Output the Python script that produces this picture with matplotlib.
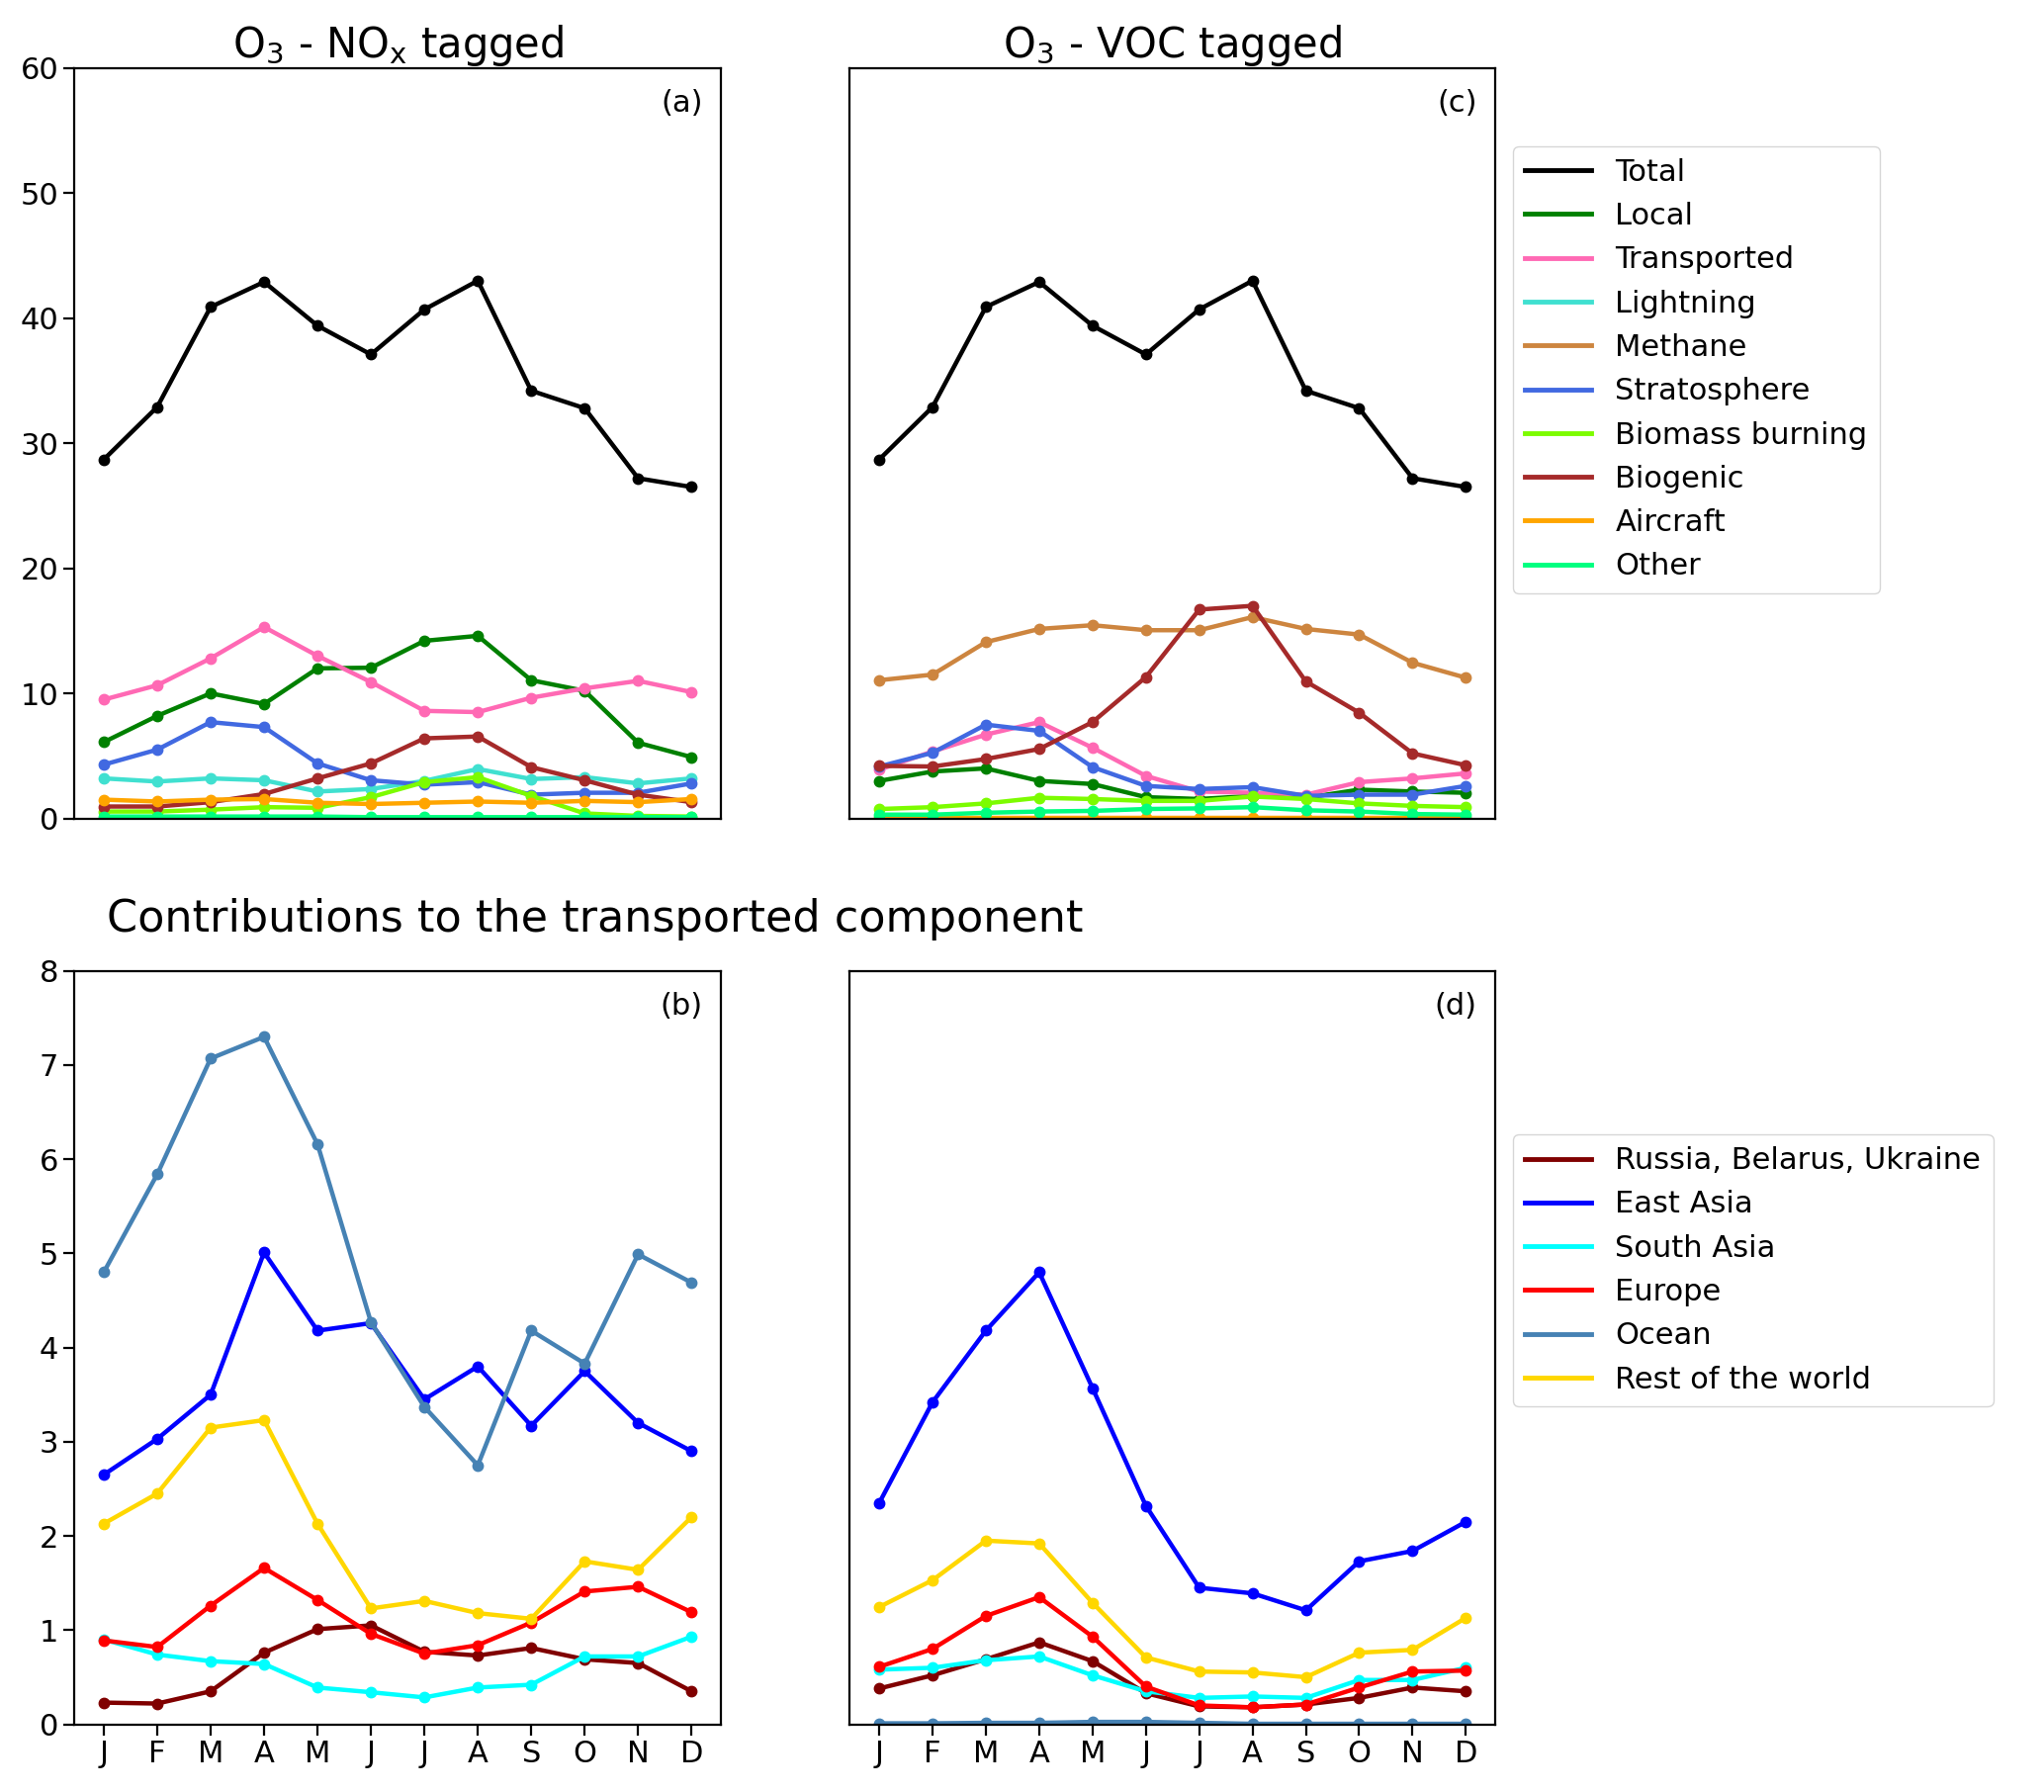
import matplotlib
matplotlib.use("Agg")
import matplotlib.pyplot as plt

months = ["J", "F", "M", "A", "M", "J", "J", "A", "S", "O", "N", "D"]
X = list(range(len(months)))

# top row: O3 tagged contributions
lab_top = ["Total", "Local", "Transported", "Lightning", "Methane", "Stratosphere",
           "Biomass burning", "Biogenic", "Aircraft", "Other"]
col_top = ["black", "green", "hotpink", "turquoise", "peru", "royalblue",
           "lawngreen", "brown", "orange", "springgreen"]

total = [28.7, 32.9, 40.9, 42.9, 39.4, 37.1, 40.7, 43.0, 34.2, 32.8, 27.2, 26.5]

nox_local = [6.1, 8.2, 10.0, 9.15, 12.0, 12.05, 14.2, 14.6, 11.05, 10.2, 6.05, 4.9]
nox_transp = [9.5, 10.65, 12.8, 15.3, 13.0, 10.9, 8.6, 8.5, 9.65, 10.4, 11.0, 10.1]
nox_light = [3.2, 2.95, 3.2, 3.05, 2.15, 2.35, 3.0, 3.95, 3.15, 3.3, 2.8, 3.2]
nox_meth = [0, 0, 0, 0, 0, 0, 0, 0, 0, 0, 0, 0]
nox_strat = [4.3, 5.5, 7.7, 7.3, 4.4, 3.05, 2.7, 2.9, 1.9, 2.05, 2.05, 2.8]
nox_bb = [0.55, 0.55, 0.7, 0.9, 0.85, 1.7, 2.9, 3.3, 1.8, 0.4, 0.2, 0.15]
nox_bio = [0.95, 0.95, 1.3, 1.95, 3.2, 4.4, 6.4, 6.55, 4.1, 3.05, 1.9, 1.3]
nox_air = [1.5, 1.35, 1.5, 1.55, 1.25, 1.15, 1.25, 1.35, 1.25, 1.4, 1.3, 1.55]
nox_other = [0.15, 0.15, 0.15, 0.15, 0.15, 0.1, 0.1, 0.1, 0.1, 0.1, 0.1, 0.1]

voc_local = [3.0, 3.75, 4.0, 3.0, 2.75, 1.7, 1.55, 1.8, 1.65, 2.3, 2.15, 2.05]
voc_transp = [3.9, 5.35, 6.7, 7.7, 5.65, 3.4, 2.15, 2.05, 1.9, 2.9, 3.2, 3.6]
voc_light = [0, 0, 0, 0, 0, 0, 0, 0, 0, 0, 0, 0]
voc_meth = [11.05, 11.5, 14.1, 15.15, 15.45, 15.05, 15.05, 16.1, 15.15, 14.7, 12.45, 11.25]
voc_strat = [4.15, 5.25, 7.5, 7.0, 4.1, 2.6, 2.35, 2.5, 1.8, 1.9, 1.9, 2.6]
voc_bb = [0.75, 0.9, 1.2, 1.65, 1.55, 1.4, 1.4, 1.75, 1.55, 1.2, 1.0, 0.9]
voc_bio = [4.2, 4.15, 4.75, 5.55, 7.7, 11.3, 16.7, 17.0, 10.95, 8.45, 5.2, 4.25]
voc_air = [0.02, 0.02, 0.02, 0.02, 0.02, 0.02, 0.02, 0.02, 0.02, 0.02, 0.02, 0.02]
voc_other = [0.3, 0.3, 0.45, 0.55, 0.6, 0.75, 0.8, 0.9, 0.65, 0.55, 0.35, 0.3]

NOX = [total, nox_local, nox_transp, nox_light, nox_meth, nox_strat, nox_bb, nox_bio, nox_air, nox_other]
VOC = [total, voc_local, voc_transp, voc_light, voc_meth, voc_strat, voc_bb, voc_bio, voc_air, voc_other]

# bottom row: regions contributing to the transported part
lab_bot = ["Russia, Belarus, Ukraine", "East Asia", "South Asia", "Europe", "Ocean", "Rest of the world"]
col_bot = ["maroon", "blue", "cyan", "red", "steelblue", "gold"]

b_rbu = [0.23, 0.22, 0.35, 0.76, 1.01, 1.05, 0.77, 0.73, 0.81, 0.69, 0.65, 0.35]
b_eas = [2.65, 3.03, 3.50, 5.01, 4.18, 4.26, 3.45, 3.80, 3.17, 3.75, 3.20, 2.90]
b_sas = [0.90, 0.74, 0.67, 0.64, 0.39, 0.34, 0.285, 0.39, 0.42, 0.72, 0.72, 0.93]
b_eur = [0.89, 0.82, 1.26, 1.66, 1.32, 0.96, 0.75, 0.84, 1.08, 1.41, 1.46, 1.19]
b_oce = [4.80, 5.84, 7.07, 7.30, 6.16, 4.27, 3.37, 2.75, 4.18, 3.83, 4.99, 4.69]
b_row = [2.13, 2.45, 3.15, 3.23, 2.13, 1.23, 1.31, 1.18, 1.12, 1.73, 1.64, 2.20]

d_rbu = [0.38, 0.52, 0.69, 0.87, 0.67, 0.33, 0.19, 0.18, 0.21, 0.28, 0.39, 0.35]
d_eas = [2.35, 3.42, 4.18, 4.80, 3.57, 2.32, 1.45, 1.39, 1.21, 1.73, 1.84, 2.15]
d_sas = [0.58, 0.60, 0.68, 0.72, 0.52, 0.35, 0.28, 0.295, 0.28, 0.47, 0.47, 0.60]
d_eur = [0.61, 0.80, 1.15, 1.35, 0.93, 0.40, 0.20, 0.18, 0.21, 0.39, 0.56, 0.57]
d_oce = [0.01, 0.01, 0.015, 0.015, 0.025, 0.025, 0.015, 0.005, 0.005, 0.005, 0.005, 0.005]
d_row = [1.245, 1.53, 1.95, 1.92, 1.29, 0.71, 0.56, 0.55, 0.50, 0.76, 0.79, 1.13]

BOT_B = [b_rbu, b_eas, b_sas, b_eur, b_oce, b_row]
BOT_D = [d_rbu, d_eas, d_sas, d_eur, d_oce, d_row]

LW = 3.2
MS = 7.5
FS = 22

fig = plt.figure(figsize=(20.67, 18.12), dpi=100)
ax_a = fig.add_axes([0.0364, 0.5433, 0.3163, 0.4187])
ax_c = fig.add_axes([0.4158, 0.5433, 0.3157, 0.4187])
ax_b = fig.add_axes([0.0364, 0.0378, 0.3163, 0.4204])
ax_d = fig.add_axes([0.4158, 0.0378, 0.3157, 0.4204])

for i in range(len(NOX)):
    ax_a.plot(X, NOX[i], color=col_top[i], lw=LW, marker="o", ms=MS, label=lab_top[i])
    ax_c.plot(X, VOC[i], color=col_top[i], lw=LW, marker="o", ms=MS)

for i in range(len(BOT_B)):
    ax_b.plot(X, BOT_B[i], color=col_bot[i], lw=LW, marker="o", ms=MS, label=lab_bot[i])
    ax_d.plot(X, BOT_D[i], color=col_bot[i], lw=LW, marker="o", ms=MS)

for ax in [ax_a, ax_c]:
    ax.set_ylim(0, 60)
    ax.set_yticks(range(0, 61, 10))
for ax in [ax_b, ax_d]:
    ax.set_ylim(0, 8)
    ax.set_yticks(range(0, 9))

for ax in [ax_a, ax_c, ax_b, ax_d]:
    ax.set_xticks(X)
    ax.set_xticklabels(months)
    ax.tick_params(labelsize=FS, length=8, width=1.6)
    for s in ax.spines.values():
        s.set_linewidth(1.6)

ax_a.tick_params(axis="x", bottom=False, labelbottom=False)
ax_c.tick_params(axis="x", bottom=False, labelbottom=False)
ax_c.tick_params(axis="y", left=False, labelleft=False)
ax_d.tick_params(axis="y", left=False, labelleft=False)

for ax, t in zip([ax_a, ax_c, ax_b, ax_d], ["(a)", "(c)", "(b)", "(d)"]):
    ax.text(0.972, 0.953, t, transform=ax.transAxes, ha="right", va="center", fontsize=FS)

ax_a.set_title("O$_3$ - NO$_\\mathregular{x}$ tagged", fontsize=30, pad=8)
ax_c.set_title("O$_3$ - VOC tagged", fontsize=30, pad=8)
fig.text(0.0523, 0.487, "Contributions to the transported component", fontsize=32, va="center")

leg1 = fig.legend(*ax_a.get_legend_handles_labels(), loc="upper left", bbox_to_anchor=(0.740, 0.9185),
                  fontsize=FS, borderaxespad=0, handlelength=2.2)
leg2 = fig.legend(*ax_b.get_legend_handles_labels(), loc="upper left", bbox_to_anchor=(0.740, 0.367),
                  fontsize=FS, borderaxespad=0, handlelength=2.2)
for leg in [leg1, leg2]:
    for h in leg.get_lines():
        h.set_marker("")
        h.set_linewidth(3.5)

plt.savefig("out.png", dpi=100)
